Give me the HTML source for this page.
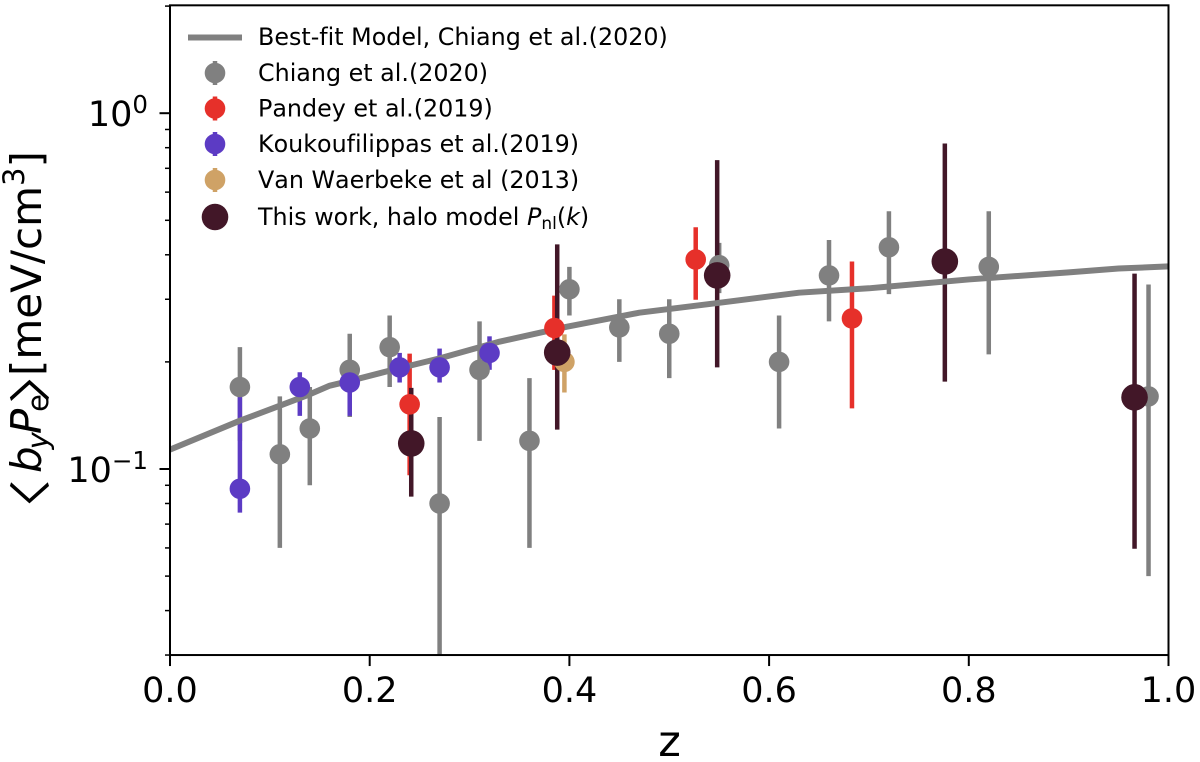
<!DOCTYPE html>
<html>
<head>
<meta charset="utf-8">
<title>Chart</title>
<style>
html,body{margin:0;padding:0;background:#fff;}
svg{display:block;}
text{font-family:"DejaVu Sans","Liberation Sans",sans-serif;fill:#000;font-variant-ligatures:none;font-kerning:none;}
</style>
</head>
<body>
<svg id="chart" xmlns="http://www.w3.org/2000/svg" width="1200" height="762" viewBox="0 0 1200 762">
  <defs><clipPath id="plot-clip"><rect x="170" y="5" width="999" height="650"/></clipPath></defs>
  <g id="bars" clip-path="url(#plot-clip)"></g>
  <g id="marks" clip-path="url(#plot-clip)"></g>
  <g id="axes"></g>

  <g>
    <line x1="188" x2="242" y1="37.5" y2="37.5" stroke="#808080" stroke-width="6"/>
    <text x="258" y="45" font-size="23.8">Best-fit Model, Chiang et al.(2020)</text>

    <line x1="215" x2="215" y1="61" y2="85" stroke="#808080" stroke-width="4.5"/>
    <circle cx="215" cy="73" r="10.3" fill="#808080"/>
    <text x="258" y="81" font-size="23.8">Chiang et al.(2020)</text>

    <line x1="215" x2="215" y1="96.5" y2="120.5" stroke="#e6302a" stroke-width="4.5"/>
    <circle cx="215" cy="108.5" r="10.3" fill="#e6302a"/>
    <text x="258" y="116.5" font-size="23.8">Pandey et al.(2019)</text>

    <line x1="215" x2="215" y1="132" y2="156" stroke="#5c3bc4" stroke-width="4.5"/>
    <circle cx="215" cy="144" r="10.3" fill="#5c3bc4"/>
    <text x="258" y="152" font-size="23.8">Koukoufilippas et al.(2019)</text>

    <line x1="215" x2="215" y1="168" y2="192" stroke="#cfa266" stroke-width="4.5"/>
    <circle cx="215" cy="180" r="10.3" fill="#cfa266"/>
    <text x="258" y="188" font-size="23.8">Van Waerbeke et al (2013)</text>

    <circle cx="215" cy="217" r="13.3" fill="#421728"/>
    <text x="258" y="225" font-size="23.8">This work, halo model <tspan font-style="italic">P</tspan><tspan font-size="17" dy="4">nl</tspan><tspan dy="-4">(</tspan><tspan font-style="italic">k</tspan>)</text>
  </g>

  <text x="669.6" y="756" font-size="43" text-anchor="middle">z</text>
  <g>
    <text transform="translate(45.5,538) rotate(-90) scale(1.4,1)" font-size="42" style="font-family:'Noto Sans CJK JP',sans-serif">〈</text>
    <text transform="translate(41,473) rotate(-90)" font-size="42"><tspan font-style="italic">b</tspan><tspan font-style="italic" font-size="29" dy="7" dx="-3">y</tspan><tspan font-style="italic" dy="-7" dx="-2">P</tspan><tspan font-size="29" dy="7" dx="-3">e</tspan></text>
    <text transform="translate(45.5,404) rotate(-90) scale(1.4,1)" font-size="42" style="font-family:'Noto Sans CJK JP',sans-serif">〉</text>
    <text transform="translate(41,376) rotate(-90)" font-size="42">[meV/cm<tspan font-size="29" dy="-17">3</tspan><tspan dy="17">]</tspan></text>
  </g>
</svg>
<script>
// Axis ranges
const xMin = 0;
const xMax = 1;
const yMin = 0.03;
const yMax = 2.01;

// Tick values and labels
const xTicks = [0, 0.2, 0.4, 0.6, 0.8, 1.0];
const xTickLabels = ["0.0", "0.2", "0.4", "0.6", "0.8", "1.0"];
const yMajorTicks = [1, 0.1];
const yMajorExponents = ["0", "−1"];
const yMinorTicks = [2, 0.9, 0.8, 0.7, 0.6, 0.5, 0.4, 0.3, 0.2, 0.09, 0.08, 0.07, 0.06, 0.05, 0.04, 0.03];

// Best-fit model
const modelZ = [0, 0.07, 0.11, 0.14, 0.16, 0.18, 0.22, 0.27, 0.33, 0.397, 0.47, 0.548, 0.63, 0.7, 0.8, 0.9, 0.95, 1];
const modelVal = [0.1134, 0.1367, 0.1506, 0.1622, 0.1715, 0.1768, 0.189, 0.2046, 0.228, 0.251, 0.275, 0.2927, 0.313, 0.322, 0.341, 0.357, 0.366, 0.371];

// Chiang et al. (2020)
const chiangZ = [0.07, 0.11, 0.14, 0.18, 0.22, 0.27, 0.31, 0.36, 0.40, 0.45, 0.50, 0.55, 0.61, 0.66, 0.72, 0.82, 0.98];
const chiangVal = [0.17, 0.11, 0.13, 0.19, 0.22, 0.08, 0.19, 0.12, 0.32, 0.25, 0.24, 0.374, 0.20, 0.35, 0.42, 0.37, 0.16];
const chiangLo = [0.12, 0.06, 0.09, 0.14, 0.17, 0.02, 0.12, 0.06, 0.27, 0.20, 0.18, 0.312, 0.13, 0.26, 0.31, 0.21, 0.05];
const chiangHi = [0.22, 0.16, 0.17, 0.24, 0.27, 0.14, 0.26, 0.18, 0.37, 0.30, 0.30, 0.432, 0.27, 0.44, 0.53, 0.53, 0.33];

// Pandey et al. (2019)
const pandeyZ = [0.24, 0.385, 0.5265, 0.683];
const pandeyVal = [0.152, 0.249, 0.388, 0.265];
const pandeyLo = [0.096, 0.19, 0.299, 0.148];
const pandeyHi = [0.211, 0.307, 0.478, 0.383];

// Koukoufilippas et al. (2019)
const koukouZ = [0.07, 0.13, 0.18, 0.23, 0.27, 0.32];
const koukouVal = [0.088, 0.17, 0.175, 0.193, 0.193, 0.212];
const koukouLo = [0.0754, 0.141, 0.141, 0.175, 0.175, 0.19];
const koukouHi = [0.161, 0.187, 0.19, 0.212, 0.218, 0.236];

// Van Waerbeke et al. (2013)
const waerbekeZ = [0.395];
const waerbekeVal = [0.2];
const waerbekeLo = [0.164];
const waerbekeHi = [0.239];

// This work
const thisWorkZ = [0.2416, 0.3878, 0.548, 0.776, 0.966];
const thisWorkVal = [0.118, 0.2125, 0.35, 0.383, 0.159];
const thisWorkLo = [0.0836, 0.129, 0.193, 0.176, 0.0597];
const thisWorkHi = [0.169, 0.428, 0.738, 0.822, 0.354];

const NS = 'http://www.w3.org/2000/svg';
function xScale(z) { return 170 + (z - xMin) / (xMax - xMin) * 998.5; }
function yScale(v) { return 113.2 - Math.log10(v) * 355.8; }
function make(tag, attrs, parent) {
  const node = document.createElementNS(NS, tag);
  for (const k in attrs) node.setAttribute(k, attrs[k]);
  parent.appendChild(node);
  return node;
}

const barsLayer = document.getElementById('bars');
const marksLayer = document.getElementById('marks');
const axesLayer = document.getElementById('axes');

function drawBars(z, lo, hi, color, width, key) {
  z.forEach(function (zi, i) {
    const el = make('line', { x1: xScale(zi), x2: xScale(zi), y1: yScale(lo[i]), y2: yScale(hi[i]), stroke: color, 'stroke-width': width }, barsLayer);
    
    
  });
}
function drawPoints(z, val, color, r, key) {
  z.forEach(function (zi, i) {
    const el = make('circle', { cx: xScale(zi), cy: yScale(val[i]), r: r, fill: color }, marksLayer);
    
    
  });
}

// Matplotlib order: all error bars first, then lines and markers
drawBars(chiangZ, chiangLo, chiangHi, '#808080', 4.5, 'chiang');
drawBars(pandeyZ, pandeyLo, pandeyHi, '#e6302a', 4.5, 'pandey');
drawBars(koukouZ, koukouLo, koukouHi, '#5c3bc4', 4.5, 'koukoufilippas');
drawBars(waerbekeZ, waerbekeLo, waerbekeHi, '#cfa266', 4.5, 'van-waerbeke');
drawBars(thisWorkZ, thisWorkLo, thisWorkHi, '#421728', 4.5, 'this-work');

const modelLine = make('polyline', {
  points: modelZ.map(function (z, i) { return xScale(z) + ',' + yScale(modelVal[i]); }).join(' '),
  fill: 'none', stroke: '#808080', 'stroke-width': 6, 'stroke-linejoin': 'round'
}, marksLayer);



drawPoints(chiangZ, chiangVal, '#808080', 10.3, 'chiang');
drawPoints(pandeyZ, pandeyVal, '#e6302a', 10.3, 'pandey');
drawPoints(koukouZ, koukouVal, '#5c3bc4', 10.3, 'koukoufilippas');
drawPoints(waerbekeZ, waerbekeVal, '#cfa266', 10.3, 'van-waerbeke');
drawPoints(thisWorkZ, thisWorkVal, '#421728', 13.3, 'this-work');

// Ticks
xTicks.forEach(function (t, i) {
  const x = xScale(t);
  const tick = make('line', { x1: x, x2: x, y1: yScale(yMin), y2: yScale(yMin) + 11, stroke: '#000', 'stroke-width': 2 }, axesLayer);
  
  
  const label = make('text', { x: x, y: 702, 'font-size': 35, 'text-anchor': 'middle' }, axesLayer);
  label.textContent = xTickLabels[i];
  
  
});
yMinorTicks.forEach(function (t) {
  const y = yScale(t);
  const tick = make('line', { x1: 165, x2: 170, y1: y, y2: y, stroke: '#000', 'stroke-width': 1.5 }, axesLayer);
  
  
});
yMajorTicks.forEach(function (t, i) {
  const y = yScale(t);
  const tick = make('line', { x1: 159.5, x2: 170, y1: y, y2: y, stroke: '#000', 'stroke-width': 2 }, axesLayer);
  
  
  const label = make('text', { x: 148, y: y + 13, 'font-size': 35, 'text-anchor': 'end' }, axesLayer);
  
  
  const base = make('tspan', {}, label);
  base.textContent = '10';
  const exp = make('tspan', { 'font-size': 24.5, dy: -13 }, label);
  exp.textContent = yMajorExponents[i];
});

// Spines
const spine = make('rect', {
  x: xScale(xMin), y: yScale(yMax),
  width: xScale(xMax) - xScale(xMin), height: yScale(yMin) - yScale(yMax),
  fill: 'none', stroke: '#000', 'stroke-width': 2
}, axesLayer);


</script>
</body>
</html>
